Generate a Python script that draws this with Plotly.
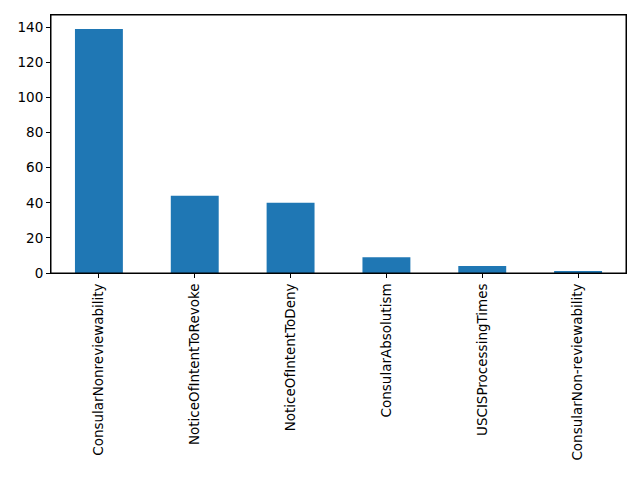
import plotly.graph_objects as go

categories = ["ConsularNonreviewability", "NoticeOfIntentToRevoke", "NoticeOfIntentToDeny",
              "ConsularAbsolutism", "USCISProcessingTimes", "ConsularNon-reviewability"]
counts = [139, 44, 40, 9, 4, 1]

fig = go.Figure(go.Bar(x=categories, y=counts, width=0.5, marker=dict(color="#1f77b4", line=dict(width=0))))
axis_common = dict(showline=True, linecolor="black", linewidth=1, mirror=True, ticks="outside",
                   ticklen=4, tickcolor="black", showgrid=False, zeroline=False,
                   tickfont=dict(family="DejaVu Sans", size=13.5, color="black"))
fig.update_layout(
    width=640, height=480, plot_bgcolor="white", paper_bgcolor="white",
    margin=dict(l=43, r=22, t=7, b=215), showlegend=False,
    xaxis=dict(range=[-0.5, 5.5], tickangle=-90, **axis_common),
    yaxis=dict(range=[0, 146.95], tickvals=[0, 20, 40, 60, 80, 100, 120, 140], **axis_common),
    shapes=[dict(type="rect", xref="paper", yref="paper", x0=0, y0=0, x1=1, y1=1,
                 line=dict(color="black", width=1))],
)
fig.write_html("out.html")
